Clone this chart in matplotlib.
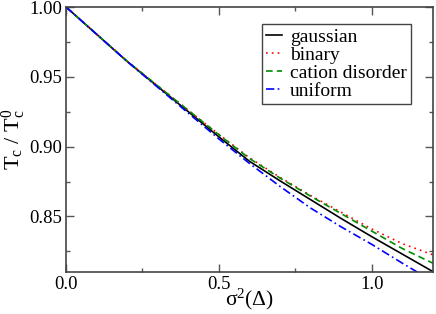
import matplotlib
matplotlib.use("Agg")
import matplotlib.pyplot as plt
from matplotlib.ticker import MultipleLocator, FormatStrFormatter

plt.rcParams["font.family"] = ["Liberation Serif", "DejaVu Serif"]
plt.rcParams["mathtext.fontset"] = "custom"
plt.rcParams["mathtext.rm"] = "Liberation Serif"
plt.rcParams["mathtext.it"] = "Liberation Serif:italic"

# sigma^2(Delta) values and Tc/Tc0
sigma2 = [0.0, 0.1, 0.2, 0.3, 0.4, 0.5, 0.6, 0.7, 0.8, 0.9, 1.0, 1.1, 1.2]
gaussian = [1.0, 0.9805, 0.961, 0.943, 0.925, 0.907, 0.8895, 0.8755, 0.862, 0.8485, 0.8355, 0.823, 0.8105]
binary = [1.0, 0.9805, 0.9612, 0.9435, 0.926, 0.9088, 0.892, 0.878, 0.865, 0.853, 0.841, 0.8305, 0.8225]
cation = [1.0, 0.9805, 0.9612, 0.9435, 0.926, 0.9085, 0.8915, 0.8775, 0.8645, 0.852, 0.8395, 0.827, 0.8165]
uniform = [1.0, 0.9805, 0.961, 0.9425, 0.924, 0.9055, 0.888, 0.8715, 0.856, 0.8425, 0.830, 0.8165, 0.8035]

fig = plt.figure(figsize=(4.36, 3.14), dpi=100)
ax = fig.add_axes([0.1514, 0.1328, 0.8416, 0.8449])

ax.plot(sigma2, gaussian, color="black", lw=1.2, ls="-", label="gaussian")
ax.plot(sigma2, binary, color="#ff0000", lw=1.2, ls=(0, (1, 2.5)), label="binary")
ax.plot(sigma2, cation, color="#008b00", lw=1.2, ls=(0, (4, 2.5)), label="cation disorder")
ax.plot(sigma2, uniform, color="#0000ff", lw=1.2, ls=(0, (5, 2, 1, 2)), label="uniform")

ax.set_xlim(0, 1.2)
ax.set_ylim(0.81, 1.0)
ax.xaxis.set_major_locator(MultipleLocator(0.5))
ax.xaxis.set_minor_locator(MultipleLocator(0.25))
ax.yaxis.set_major_locator(MultipleLocator(0.05))
ax.yaxis.set_minor_locator(MultipleLocator(0.025))
ax.xaxis.set_major_formatter(FormatStrFormatter("%.1f"))
ax.yaxis.set_major_formatter(FormatStrFormatter("%.2f"))

ax.tick_params(which="both", direction="in", top=True, right=True,
               width=1.0, color="#555555", labelsize=13.5)
ax.tick_params(which="major", length=5.5, pad=3)
ax.tick_params(which="minor", length=3)
for s in ax.spines.values():
    s.set_color("#444444")
    s.set_linewidth(1.2)

ax.set_xlabel("σ$^{2}$(Δ)", fontsize=15.5)
ax.xaxis.set_label_coords(0.5, -0.055)
ax.set_ylabel(r"T$_{\rm c}$ / T$_{\rm c}^{0}$", fontsize=16, labelpad=1)

leg = ax.legend(loc="upper right", bbox_to_anchor=(0.94, 0.935), borderaxespad=0,
                fontsize=14, handlelength=0.85, handletextpad=0.4,
                labelspacing=0.02, borderpad=0.2, fancybox=False, framealpha=1)
leg.get_frame().set_edgecolor("#444444")
leg.get_frame().set_linewidth(1.0)

fig.savefig("out.png", dpi=100)
